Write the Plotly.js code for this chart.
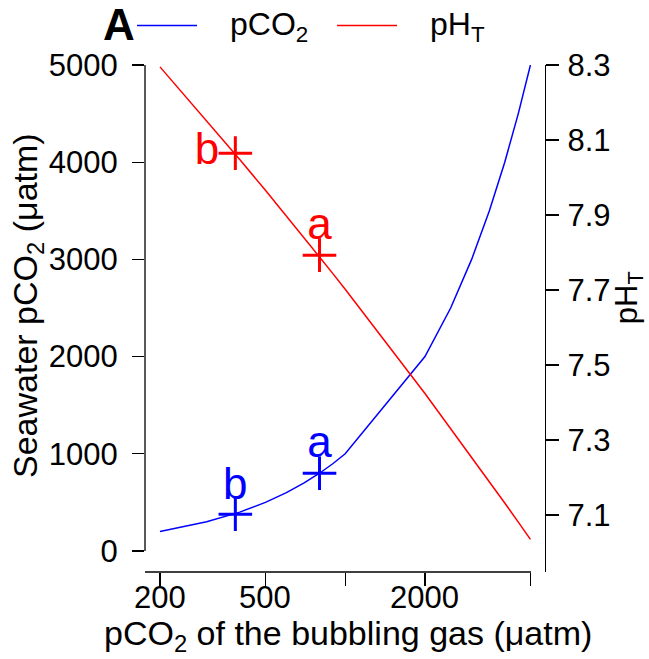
<!DOCTYPE html>
<html>
<head>
<meta charset="utf-8">
<script src="https://cdn.plot.ly/plotly-3.0.1.min.js"></script>
<style>html,body{margin:0;padding:0;background:#fff;}#chart{width:649px;height:659px;}</style>
</head>
<body>
<div id="chart"></div>
<script>
// bubbling gas pCO2 (µatm)
const gasPCO2 = [200, 300, 400, 500, 600, 700, 800, 900, 1000, 2000, 2500, 3000, 3500, 4000, 4500, 5000];
// seawater pCO2 (µatm)
const seawaterPCO2 = [200, 300, 400, 500, 600, 700, 800, 900, 1000, 2000, 2500, 3000, 3500, 4000, 4500, 5000];
// pH (total scale)
const pHT = [8.295, 8.152, 8.048, 7.966, 7.898, 7.839, 7.788, 7.743, 7.702, 7.424, 7.331, 7.255, 7.189, 7.132, 7.081, 7.035];

// measured points
const ptLabels = ["b", "a"];
const ptGas = [385, 800];
const ptSeawater = [378, 800];
const ptPH = [8.065, 7.793];

const xTicks = [200, 500, 1000, 2000, 5000];
const xTickText = ["200", "500", "", "2000", ""];
const yTicks = [0, 1000, 2000, 3000, 4000, 5000];
const y2Ticks = [7.1, 7.3, 7.5, 7.7, 7.9, 8.1, 8.3];

const FONT = "Liberation Sans, Arial, Helvetica, sans-serif";
const BLUE = "#0000ff", RED = "#ff0000";

const traces = [
  {x: gasPCO2, y: seawaterPCO2, type: "scatter", mode: "lines", line: {color: BLUE, width: 1.5}, yaxis: "y", hoverinfo: "skip"},
  {x: gasPCO2, y: pHT, type: "scatter", mode: "lines", line: {color: RED, width: 1.5}, yaxis: "y2", hoverinfo: "skip"},
  {x: ptGas, y: ptSeawater, type: "scatter", mode: "markers", yaxis: "y", hoverinfo: "skip", cliponaxis: false,
   marker: {symbol: "cross-thin", size: 24, line: {color: BLUE, width: 3}}},
  {x: ptGas, y: ptPH, type: "scatter", mode: "markers", yaxis: "y2", hoverinfo: "skip", cliponaxis: false,
   marker: {symbol: "cross-thin", size: 24, line: {color: RED, width: 3}}},
  // letter labels
  {x: ptGas, y: ptSeawater, type: "scatter", mode: "markers+text", text: ptLabels, yaxis: "y", hoverinfo: "skip", cliponaxis: false,
   textposition: ["top center", "top center"], textfont: {family: FONT, size: 44, color: BLUE},
   marker: {size: [6, 6], opacity: 0, color: BLUE}},
  {x: ptGas, y: ptPH, type: "scatter", mode: "markers+text", text: ptLabels, yaxis: "y2", hoverinfo: "skip", cliponaxis: false,
   textposition: ["middle left", "top center"], textfont: {family: FONT, size: 44, color: RED},
   marker: {size: [24, 6], opacity: 0, color: RED}}
];

// x tick labels placed as annotations (log axis -> log10 positions)
const xLabelAnns = xTicks.map((v, i) => ({
  xref: "x", yref: "paper", x: Math.log10(v), y: 0, yshift: -25, xanchor: "center", yanchor: "middle",
  text: xTickText[i], showarrow: false, font: {size: 31}
})).filter(a => a.text !== "");

const layout = {
  width: 649, height: 659,
  margin: {l: 145, r: 104, t: 65, b: 87},
  paper_bgcolor: "#fff", plot_bgcolor: "#fff",
  font: {family: FONT, size: 31, color: "#000"},
  showlegend: false,
  xaxis: {
    type: "log", range: [Math.log10(175.6), Math.log10(5675)],
    tickvals: xTicks, ticks: "outside", ticklen: 13, tickwidth: 1.3, tickcolor: "#000",
    showticklabels: false, showline: false, showgrid: false, zeroline: false, automargin: false
  },
  yaxis: {
    range: [-216, 5000], tickvals: yTicks, ticks: "outside", ticklen: 12, tickwidth: 1.3, tickcolor: "#000",
    showline: false, showgrid: false, zeroline: false, automargin: false,
    tickfont: {size: 31}, ticklabelstandoff: 8
  },
  yaxis2: {
    overlaying: "y", side: "right", range: [6.948, 8.3], tickvals: y2Ticks, ticktext: y2Ticks.map(v => v.toFixed(1)),
    ticks: "outside", ticklen: 13, tickwidth: 1.3, tickcolor: "#000",
    showline: true, linecolor: "#000", linewidth: 1.3, showgrid: false, zeroline: false, automargin: false,
    tickfont: {size: 31}, ticklabelstandoff: 2
  },
  shapes: [
    {type: "line", xref: "paper", yref: "y", x0: 0, x1: 0, y0: 0, y1: 5000, line: {color: "#000", width: 1.3}},
    {type: "line", xref: "paper", yref: "paper", x0: 0, x1: 0.965, y0: 0, y1: 0, line: {color: "#000", width: 1.3}},
    // legend keys
    {type: "line", xref: "paper", yref: "paper", x0: -0.02, x1: 0.13, y0: 1.078, y1: 1.078, line: {color: BLUE, width: 1.5}},
    {type: "line", xref: "paper", yref: "paper", x0: 0.48, x1: 0.63, y0: 1.078, y1: 1.078, line: {color: RED, width: 1.5}}
  ],
  annotations: [
    {xref: "paper", yref: "paper", x: -0.02, y: 1.08, xanchor: "right", yanchor: "middle", text: "<b>A</b>", showarrow: false, font: {size: 44}},
    {xref: "paper", yref: "paper", x: 0.2075, y: 1.075, xanchor: "left", yanchor: "middle", text: "pCO<sub>2</sub>", showarrow: false, font: {size: 32}},
    {xref: "paper", yref: "paper", x: 0.7075, y: 1.075, xanchor: "left", yanchor: "middle", text: "pH<sub>T</sub>", showarrow: false, font: {size: 32}},
    // axis titles
    {xref: "paper", yref: "paper", x: 0.5075, y: -0.126, xanchor: "center", yanchor: "middle", text: "pCO<sub>2</sub> of the bubbling gas (μatm)", showarrow: false, font: {size: 34}},
    {xref: "paper", yref: "paper", x: -0.2925, y: 0.5247, xanchor: "center", yanchor: "middle", textangle: -90, text: "Seawater pCO<sub>2</sub> (μatm)", showarrow: false, font: {size: 34}},
    {xref: "paper", yref: "paper", x: 1.21, y: 0.54, xanchor: "center", yanchor: "middle", textangle: -90, text: "pH<sub>T</sub>", showarrow: false, font: {size: 31}}
  ].concat(xLabelAnns)
};

Plotly.newPlot("chart", traces, layout, {staticPlot: true, displayModeBar: false});
</script>
</body>
</html>
